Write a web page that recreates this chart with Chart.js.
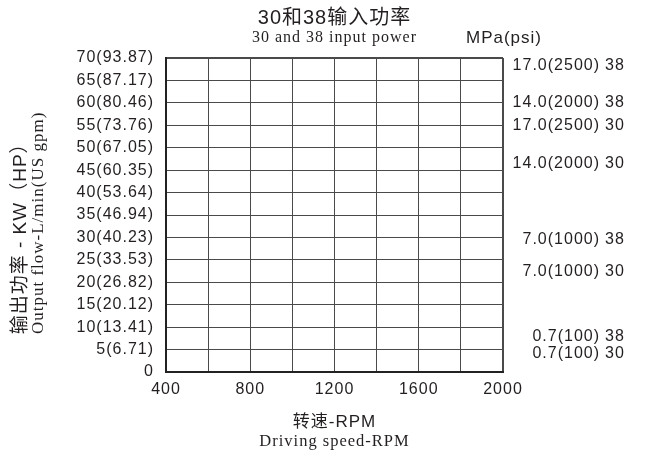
<!DOCTYPE html>
<html><head><meta charset="utf-8">
<script src="https://cdn.jsdelivr.net/npm/chart.js@4.4.1/dist/chart.umd.min.js"></script>
<style>html,body{margin:0;padding:0;background:#fff;}#wrap{width:645px;height:454px;position:relative;}</style>
</head><body><div id="wrap"><canvas id="c"></canvas></div>
<script>
const titleCn = '30和38输入功率';
const titleEn = '30 and 38 input power';
const xTitleCn = '转速-RPM';
const xTitleEn = 'Driving speed-RPM';
const yTitleCn = '输出功率 - KW（HP）      ';
const yTitleEn = 'Output flow-L/min(US gpm)   ';
const pressureUnit = 'MPa(psi)';
const xMin = 400, xMax = 2000, xStep = 200;
const xLabelValues = [400, 800, 1200, 1600, 2000];
const yValues = [0, 5, 10, 15, 20, 25, 30, 35, 40, 45, 50, 55, 60, 65, 70];
const yLabels = ['0', '5(6.71)', '10(13.41)', '15(20.12)', '20(26.82)', '25(33.53)', '30(40.23)',
  '35(46.94)', '40(53.64)', '45(60.35)', '50(67.05)', '55(73.76)', '60(80.46)', '65(87.17)', '70(93.87)'];
const pressureValues = [68.3, 60.0, 54.9, 46.5, 29.6, 22.3, 7.8, 4.1];
const pressureLabels = ['17.0(2500)', '14.0(2000)', '17.0(2500)', '14.0(2000)', '7.0(1000)', '7.0(1000)', '0.7(100)', '0.7(100)'];
const modelLabels = ['38', '38', '30', '30', '38', '30', '38', '30'];

const SANS = "'Liberation Sans', 'Noto Sans CJK SC', sans-serif";
const SERIF = "'Liberation Serif', 'Noto Serif CJK SC', 'Noto Sans CJK SC', serif";
const INK = '#231f20';
const GRID = '#4a4a4a';

const spacing = {
  id: 'spacing',
  beforeUpdate(c) { c.ctx.letterSpacing = '1px'; },
  beforeLayout(c) { c.ctx.letterSpacing = '1px'; },
  beforeDraw(c) { c.ctx.letterSpacing = '1px'; },
  afterDraw(c) {
    const ctx = c.ctx; const s = c.scales.yP;
    ctx.save();
    ctx.letterSpacing = '1px';
    ctx.font = '17px ' + SANS;
    ctx.fillStyle = INK;
    ctx.textAlign = 'left';
    ctx.textBaseline = 'middle';
    ctx.fillText(pressureUnit, s.left - 37, c.chartArea.top - 20);
    ctx.restore();
  }
};

const fixedTicks = (scale, vals) => { scale.ticks = vals.map(v => ({ value: v })); };

new Chart(document.getElementById('c'), {
  type: 'scatter',
  data: { datasets: [{ data: [], showLine: true }] },
  plugins: [spacing],
  options: {
    responsive: true,
    maintainAspectRatio: false,
    animation: false,
    color: INK,
    layout: { padding: { left: 0, right: 0, top: 0, bottom: 2 } },
    plugins: {
      legend: { display: false },
      tooltip: { enabled: false },
      title: { display: true, fullSize: false, text: titleCn, color: INK, font: { family: SANS, size: 20, weight: 'normal', lineHeight: 1.2 }, padding: { top: 6, bottom: 0 } },
      subtitle: { display: true, fullSize: false, text: titleEn, color: INK, font: { family: SERIF, size: 16, weight: 'normal', lineHeight: 1 }, padding: { top: 0, bottom: 12 } }
    },
    scales: {
      x: {
        type: 'linear', position: 'bottom', min: xMin, max: xMax, weight: 0,
        afterFit: s => { s.height = 62; },
        ticks: { stepSize: xStep, autoSkip: false, maxRotation: 0, color: INK, padding: 8,
          font: { family: SANS, size: 16 },
          callback: v => xLabelValues.includes(v) ? String(v) : '' },
        grid: { color: GRID, lineWidth: c => (c.tick && c.tick.value === xMax) ? 2 : 1, drawTicks: false },
        border: { display: true, color: '#222', width: 2 },
        title: { display: true, text: xTitleCn, color: INK, font: { family: SANS, size: 17, lineHeight: 1.2 }, padding: { top: 0, bottom: 1 } }
      },
      x2: {
        type: 'linear', position: 'bottom', min: xMin, max: xMax, weight: 1,
        afterFit: s => { s.height = 18; },
        ticks: { display: false }, grid: { display: false, drawTicks: false }, border: { display: false },
        title: { display: true, text: xTitleEn, color: INK, font: { family: SERIF, size: 16.5, lineHeight: 1.2 }, padding: { top: 0, bottom: 0 } }
      },
      y: {
        type: 'linear', position: 'left', min: 0, max: 70, weight: 0,
        afterFit: s => { s.width = 136; },
        afterBuildTicks: s => fixedTicks(s, yValues),
        ticks: { autoSkip: false, color: INK, padding: 12, font: { family: SANS, size: 16 },
          callback: v => yLabels[yValues.indexOf(v)] },
        grid: { color: GRID, lineWidth: c => (c.tick && c.tick.value === 70) ? 2 : 1, drawTicks: false },
        border: { display: true, color: '#222', width: 2 },
        title: { display: true, text: yTitleEn, color: INK, font: { family: SERIF, size: 17, lineHeight: 1 }, padding: { top: 0, bottom: 0 } }
      },
      yC: {
        type: 'linear', position: 'left', min: 0, max: 70, weight: 1,
        afterFit: s => { s.width = 30; },
        ticks: { display: false }, grid: { display: false, drawTicks: false }, border: { display: false },
        title: { display: true, text: yTitleCn, color: INK, font: { family: SANS, size: 19, lineHeight: 1.2 }, padding: { top: 9, bottom: 0 } }
      },
      yP: {
        type: 'linear', position: 'right', min: 0, max: 70, weight: 0,
        afterFit: s => { s.width = 97; },
        afterBuildTicks: s => fixedTicks(s, pressureValues),
        ticks: { autoSkip: false, crossAlign: 'far', color: INK, padding: 7, font: { family: SANS, size: 16 },
          callback: (v, i) => pressureLabels[i] },
        grid: { display: false, drawTicks: false }, border: { display: false }
      },
      yM: {
        type: 'linear', position: 'right', min: 0, max: 70, weight: 1,
        afterFit: s => { s.width = 45; },
        afterBuildTicks: s => fixedTicks(s, pressureValues),
        ticks: { autoSkip: false, crossAlign: 'near', color: INK, padding: 5, font: { family: SANS, size: 16 },
          callback: (v, i) => modelLabels[i] },
        grid: { display: false, drawTicks: false }, border: { display: false }
      }
    }
  }
});
</script></body></html>
